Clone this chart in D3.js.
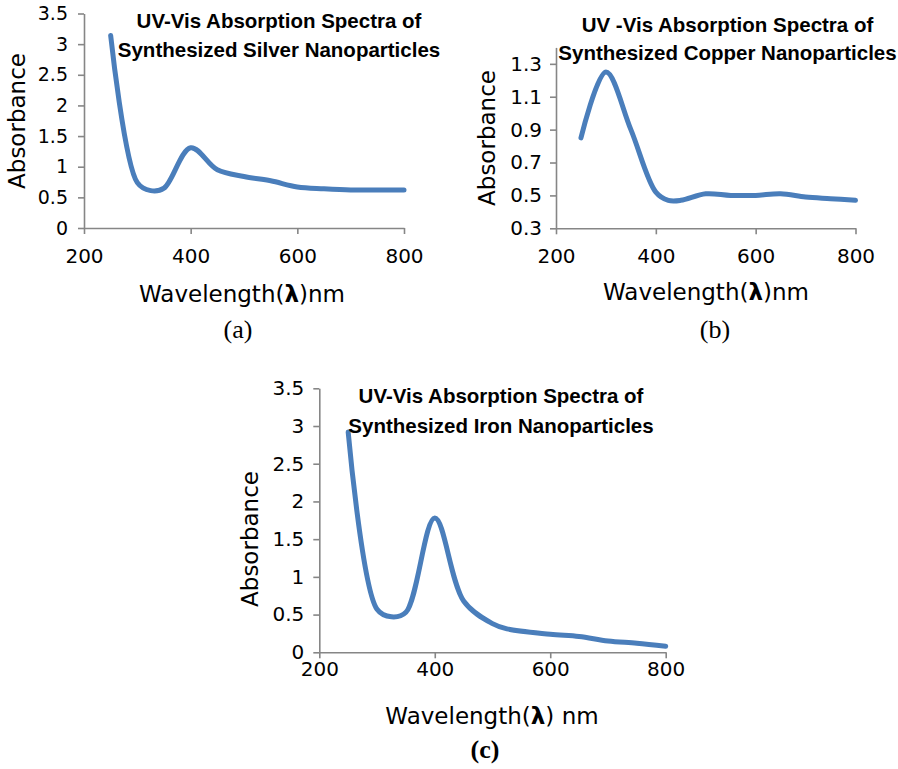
<!DOCTYPE html>
<html>
<head>
<meta charset="utf-8">
<script src="https://cdn.jsdelivr.net/npm/d3@7"></script>
<style>
  body { margin: 0; background: #fff; }
  .axis path, .axis line { stroke: #868686; stroke-width: 1.6; }
  .axis text { fill: #000; font-family: "DejaVu Sans", sans-serif; }
  .title { font-family: "Liberation Sans", Arial, sans-serif; font-weight: bold; font-size: 20.5px; }
  .alabel { font-family: "DejaVu Sans", sans-serif; font-size: 23px; }
  .letter { font-family: "Liberation Serif", "Times New Roman", serif; font-size: 26px; }
</style>
</head>
<body>
<div id="chart"></div>
<script>
var width = 898;
var height = 769;

// wavelengths (nm) and absorbance
var silverWl = [250, 300, 325, 350, 400, 450, 500, 550, 600, 650, 700, 750, 800];
var silverAbs = [3.14, 0.74, 0.61, 0.65, 1.31, 0.95, 0.84, 0.77, 0.67, 0.64, 0.62, 0.62, 0.62];

var copperWl = [250, 300, 350, 400, 425, 450, 500, 550, 600, 650, 700, 750, 800];
var copperAbs = [0.85, 1.25, 0.90, 0.52, 0.47, 0.47, 0.51, 0.50, 0.50, 0.51, 0.49, 0.48, 0.47];

var ironWl = [250, 300, 325, 350, 400, 450, 500, 525, 600, 650, 700, 750, 800];
var ironAbs = [2.92, 0.57, 0.47, 0.53, 1.78, 0.68, 0.38, 0.31, 0.24, 0.21, 0.15, 0.12, 0.08];

var xTicks = [200, 400, 600, 800];
var yTicksA = [0, 0.5, 1, 1.5, 2, 2.5, 3, 3.5];
var yTicksB = [0.3, 0.5, 0.7, 0.9, 1.1, 1.3];
var yTicksC = [0, 0.5, 1, 1.5, 2, 2.5, 3, 3.5];

var svg = d3.select('#chart')
    .append('svg')
    .attr('width', width)
    .attr('height', height);

// one panel = one small line chart
function drawPanel(p) {
  var xScale = d3.scaleLinear().domain([200, 800]).range([p.left, p.right]);
  var yScale = d3.scaleLinear().domain(p.yDomain).range([p.bottom, p.top]);

  var g = svg.append('g');

  var xAxis = d3.axisBottom(xScale).tickValues(xTicks).tickSize(6).tickSizeOuter(0)
      .tickPadding(p.xPad).tickFormat(d3.format('d'));
  g.append('g').attr('class', 'axis')
      .attr('transform', 'translate(0,' + p.bottom + ')')
      .call(xAxis)
      .selectAll('text').style('font-size', p.xFont + 'px');

  var yAxis = d3.axisLeft(yScale).tickValues(p.yTicks).tickSize(6).tickSizeOuter(0)
      .tickPadding(p.yPad).tickFormat(d3.format(''));
  g.append('g').attr('class', 'axis')
      .attr('transform', 'translate(' + p.left + ',0)')
      .call(yAxis)
      .selectAll('text').style('font-size', p.yFont + 'px');

  var pts = p.wl.map(function(w, i) { return [w, p.abs[i]]; });
  var line = d3.line()
      .x(function(d) { return xScale(d[0]); })
      .y(function(d) { return yScale(d[1]); })
      .curve(d3.curveCatmullRom.alpha(0.5));
  g.append('path')
      .attr('d', line(pts))
      .attr('fill', 'none')
      .attr('stroke', '#4a7ebb')
      .attr('stroke-width', 5)
      .attr('stroke-linecap', 'round')
      .attr('stroke-linejoin', 'round');

  // title, two lines
  g.append('text').attr('class', 'title').attr('text-anchor', 'middle')
      .attr('x', p.titleX).attr('y', p.titleY[0]).text(p.title[0]);
  g.append('text').attr('class', 'title').attr('text-anchor', 'middle')
      .attr('x', p.titleX).attr('y', p.titleY[1]).text(p.title[1]);

  // y label
  g.append('text').attr('class', 'alabel').attr('text-anchor', 'middle')
      .attr('transform', 'translate(' + p.yLabelX + ',' + p.yLabelY + ') rotate(-90)')
      .text('Absorbance');

  // x label with bold lambda
  var xl = g.append('text').attr('class', 'alabel').attr('text-anchor', 'middle')
      .attr('x', p.xLabelX).attr('y', p.xLabelY);
  xl.append('tspan').text('Wavelength(');
  xl.append('tspan').style('font-weight', 'bold').text('λ');
  xl.append('tspan').text(')' + p.unitGap + 'nm');

  g.append('text').attr('class', 'letter').attr('text-anchor', 'middle')
      .style('font-weight', p.letterBold ? 'bold' : 'normal')
      .attr('x', p.letterX).attr('y', p.letterY).text(p.letter);
}

drawPanel({
  wl: silverWl, abs: silverAbs,
  left: 84, right: 404, top: 13.5, bottom: 228,
  yDomain: [0, 3.5], yTicks: yTicksA,
  xPad: 15, yPad: 10, xFont: 20, yFont: 19,
  title: ['UV-Vis Absorption Spectra of', 'Synthesized Silver Nanoparticles'],
  titleX: 279, titleY: [28, 57],
  yLabelX: 25, yLabelY: 121,
  xLabelX: 242, xLabelY: 302, unitGap: '',
  letter: '(a)', letterX: 238, letterY: 338, letterBold: false
});

drawPanel({
  wl: copperWl, abs: copperAbs,
  left: 556, right: 855.5, top: 47.4, bottom: 228.3,
  yDomain: [0.3, 1.4], yTicks: yTicksB,
  xPad: 15, yPad: 8, xFont: 20, yFont: 20,
  title: ['UV -Vis Absorption Spectra of', 'Synthesized Copper Nanoparticles'],
  titleX: 727.5, titleY: [32, 60],
  yLabelX: 495, yLabelY: 138,
  xLabelX: 706, xLabelY: 300, unitGap: '',
  letter: '(b)', letterX: 715, letterY: 338, letterBold: false
});

drawPanel({
  wl: ironWl, abs: ironAbs,
  left: 319.3, right: 665.7, top: 388.3, bottom: 652.3,
  yDomain: [0, 3.5], yTicks: yTicksC,
  xPad: 4, yPad: 9, xFont: 20, yFont: 20,
  title: ['UV-Vis Absorption Spectra of', 'Synthesized Iron Nanoparticles'],
  titleX: 501, titleY: [403, 433],
  yLabelX: 258, yLabelY: 539,
  xLabelX: 492, xLabelY: 724, unitGap: ' ',
  letter: '(c)', letterX: 485, letterY: 758, letterBold: true
});
</script>
</body>
</html>
